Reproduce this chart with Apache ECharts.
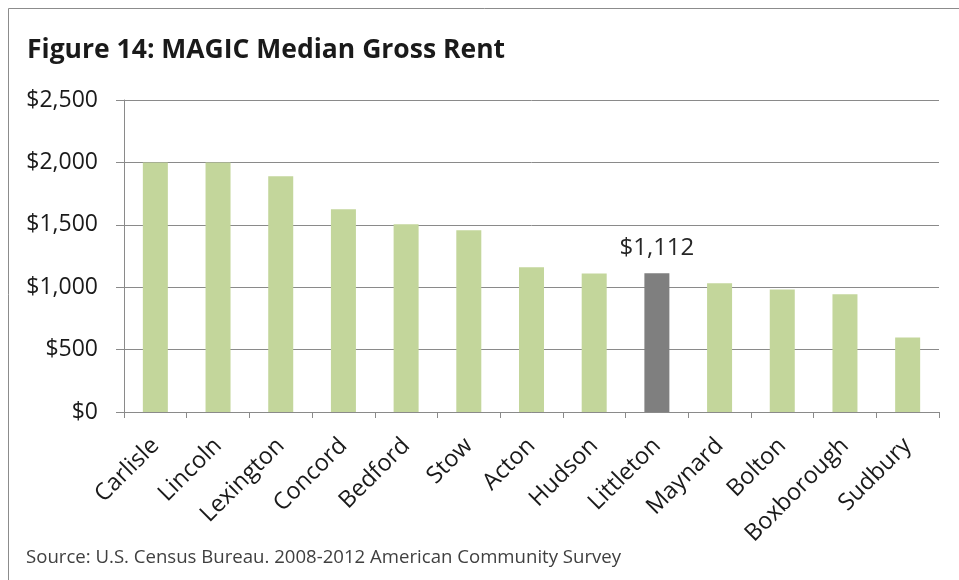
<!DOCTYPE html>
<html>
<head>
<meta charset="utf-8">
<title>MAGIC Median Gross Rent</title>
<style>
    html, body { margin: 0; padding: 0; background: #fff; }
    #chart { width: 959px; height: 580px; }
</style>
</head>
<body>
<div id="chart"></div>
<script src="https://cdn.jsdelivr.net/npm/echarts@6/dist/echarts.min.js"></script>
<script type="text/javascript">
    var towns = ['Carlisle', 'Lincoln', 'Lexington', 'Concord', 'Bedford', 'Stow', 'Acton',
                 'Hudson', 'Littleton', 'Maynard', 'Bolton', 'Boxborough', 'Sudbury'];
    var rent = [2000, 2000, 1890, 1624, 1504, 1456, 1160, 1110, 1112, 1032, 981, 944, 597];
    var yTicks = [0, 500, 1000, 1500, 2000, 2500];
    var highlight = 'Littleton';

    var font = 'Open Sans';
    var green = '#c3d69b';
    var grey = '#7f7f7f';
    var lineGrey = '#8a8a8a';

    function money(v) {
        return '$' + v.toLocaleString('en-US');
    }

    var bars = towns.map(function (t, i) {
        if (t !== highlight) {
            return rent[i];
        }
        return {
            value: rent[i],
            itemStyle: { color: grey },
            label: {
                show: true,
                position: 'top',
                distance: 13,
                formatter: function (p) { return money(p.value); },
                fontFamily: font,
                fontSize: 24,
                color: '#262626'
            }
        };
    });

    var myChart = echarts.init(document.getElementById('chart'));
    var option = {
        animation: false,
        backgroundColor: '#fff',
        title: {
            text: 'Figure 14: MAGIC Median Gross Rent',
            left: 22,
            top: 32,
            textStyle: {
                fontFamily: font,
                fontWeight: 'bold',
                fontSize: 26.5,
                color: '#1a1a1a'
            }
        },
        graphic: [
            {
                type: 'rect',
                shape: { x: 8.5, y: 8.5, width: 1000, height: 1000 },
                style: { fill: 'none', stroke: '#8c8c8c', lineWidth: 1 },
                silent: true
            },
            {
                type: 'text',
                left: 26,
                top: 548,
                style: {
                    text: 'Source: U.S. Census Bureau. 2008-2012 American Community Survey',
                    font: '18.6px "Open Sans"',
                    fill: '#404040'
                }
            }
        ],
        grid: {
            left: 124,
            right: 20,
            top: 100,
            bottom: 168,
            containLabel: false
        },
        xAxis: {
            type: 'category',
            data: towns,
            axisLine: { lineStyle: { color: lineGrey, width: 1 } },
            axisTick: { show: true, length: 6, inside: false, lineStyle: { color: lineGrey } },
            axisLabel: {
                rotate: 45,
                margin: 30,
                interval: 0,
                fontFamily: font,
                fontSize: 23.5,
                color: '#1a1a1a'
            }
        },
        yAxis: {
            type: 'value',
            min: yTicks[0],
            max: yTicks[yTicks.length - 1],
            interval: 500,
            axisLine: { show: true, lineStyle: { color: lineGrey, width: 1 } },
            axisTick: { show: true, length: 8, lineStyle: { color: lineGrey } },
            splitLine: { show: true, lineStyle: { color: lineGrey, width: 1 } },
            axisLabel: {
                margin: 26,
                formatter: money,
                fontFamily: font,
                fontSize: 23,
                color: '#1a1a1a'
            }
        },
        series: [
            {
                type: 'bar',
                data: bars,
                barWidth: 25,
                itemStyle: { color: green }
            }
        ]
    };
    myChart.setOption(option);
</script>
</body>
</html>
